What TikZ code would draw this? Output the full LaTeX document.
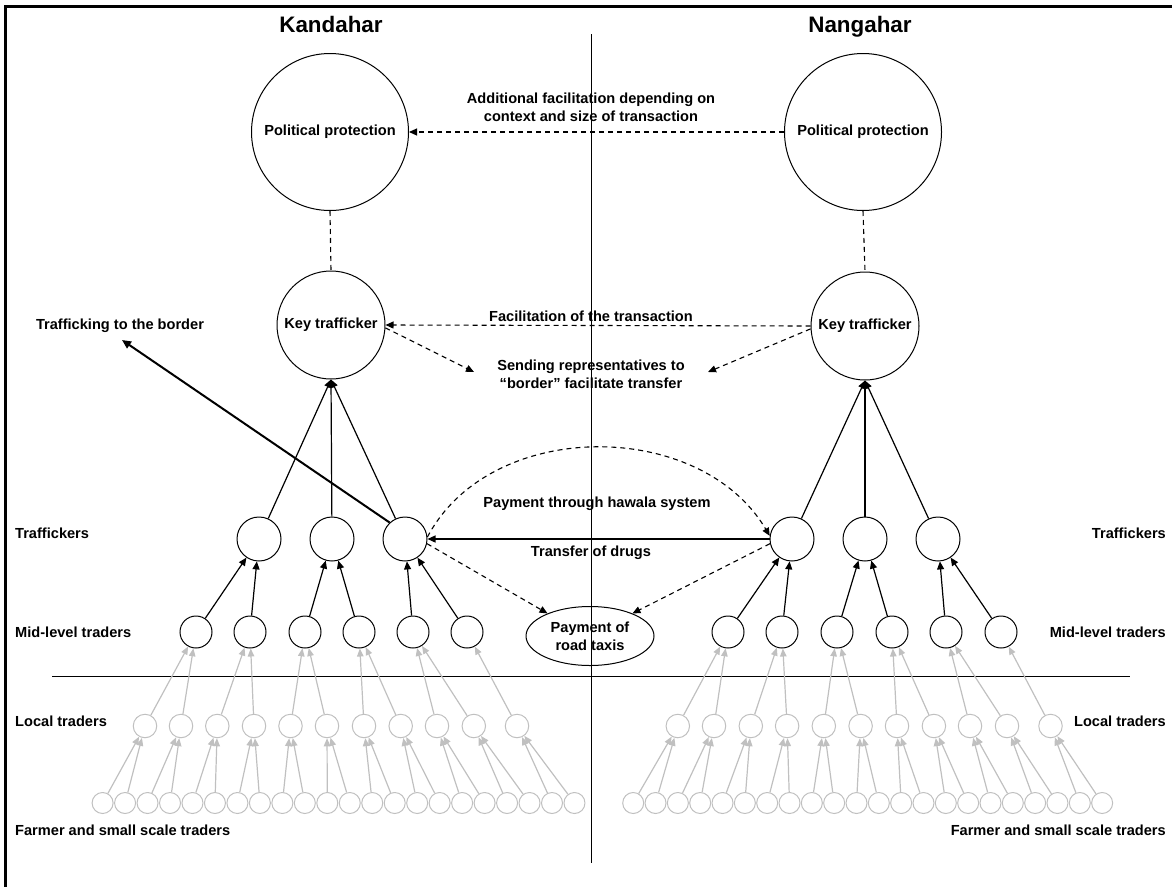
\documentclass[tikz,border=0pt]{standalone}
\usepackage{fontspec}
\setmainfont{Liberation Sans}
\usetikzlibrary{arrows.meta,shapes.geometric}
\definecolor{lightg}{RGB}{192,192,192}
\begin{document}
\begin{tikzpicture}[x=1pt,y=-1pt,
  every node/.style={font=\bfseries\fontsize{14.6}{18}\selectfont, inner sep=0pt, align=center},
  ring/.style={circle, draw, line width=1pt, minimum size=#1},
  gring/.style={circle, draw=lightg, line width=1pt, minimum size=#1},
  title/.style={font=\bfseries\fontsize{22.4}{26}\selectfont, anchor=base},
  blk/.style={line width=1.2pt, -{Triangle[length=8pt,width=7pt]}},
  gry/.style={draw=lightg, line width=1.2pt, -{Triangle[length=8pt,width=6.5pt]}},
  dsh/.style={line width=1.1pt, dash pattern=on 5pt off 4pt},
  dsharr/.style={dsh, -{Triangle[length=8pt,width=7pt]}}
]
\useasboundingbox (0,0) rectangle (1172,886);
\clip (0,0) rectangle (1172,886);
% frame
\draw[line width=3.2pt] (5.7,900) -- (5.7,6.7) -- (1190,6.7);
% dividers
\draw[line width=1pt] (591,34) -- (591,863);
\draw[line width=1pt] (52,676) -- (1130,676);
% titles
\node[title] (tk) at (331,32.5) {Kandahar};
\node[title] (tn) at (860,32.5) {Nangahar};
% political protection
\node[ring=157] (lpp) at (330,132) {Political protection};
\node[ring=157] (rpp) at (863,132) {Political protection};
% key traffickers
\node[ring=108] (lkt) at (331,325) {Key trafficker};
\node[ring=108] (rkt) at (865,326) {Key trafficker};
\draw[dsh] (lpp.south) -- (lkt.north);
\draw[dsh] (rpp.south) -- (rkt.north);
% traffickers
\foreach \x [count=\i] in {259,332,405} \node[ring=44] (lt\i) at (\x,539) {};
\foreach \x [count=\i] in {792,865,938} \node[ring=44] (rt\i) at (\x,539) {};
% mid-level
\foreach \x [count=\i] in {196,250,305,359,413,467} \node[ring=32] (lm\i) at (\x,632) {};
\foreach \x [count=\i] in {728,782,837,892,946,1001} \node[ring=32] (rm\i) at (\x,632) {};
% local traders
\foreach \x [count=\i] in {145,181,217.3,254,290.5,327,364,400.7,437,473.8,517} \node[gring=23.5] (ll\i) at (\x,726) {};
\foreach \x [count=\i] in {677.8,714,750.8,787.1,823.8,860.6,897,933.9,970,1007,1050.5} \node[gring=23.5] (rl\i) at (\x,726) {};
% farmers
\foreach \i in {1,...,22} {
  \node[gring=21] (lf\i) at ({102.6+22.47*(\i-1)},803) {};
  \node[gring=21] (rf\i) at ({633.2+22.33*(\i-1)},803) {};
}
% payment of road taxis
\node[ellipse, draw, line width=1pt, minimum width=128, minimum height=59] (taxi) at (590,636) {Payment of\\road taxis};
% farmer -> local
\foreach \i in {1,...,11} {
  \pgfmathtruncatemacro\a{2*\i-1}
  \pgfmathtruncatemacro\b{2*\i}
  \draw[gry] (lf\a) -- (ll\i);
  \draw[gry] (lf\b) -- (ll\i);
  \draw[gry] (rf\a) -- (rl\i);
  \draw[gry] (rf\b) -- (rl\i);
}
% local -> mid
\foreach \l/\m in {1/1,2/1,3/2,4/2,5/3,6/3,7/4,8/4,9/5,10/5,11/6} {
  \draw[gry] (ll\l) -- (lm\m);
  \draw[gry] (rl\l) -- (rm\m);
}
% mid -> traffickers
\foreach \m/\t in {1/1,2/1,3/2,4/2,5/3,6/3} {
  \draw[blk] (lm\m) -- (lt\t);
  \draw[blk] (rm\m) -- (rt\t);
}
% traffickers -> key
\foreach \t in {1,2,3} {
  \draw[blk] (lt\t) -- (lkt.south);
  \draw[blk] (rt\t) -- (rkt.south);
}
% top dashed arrows
\draw[dsharr] (rpp.west) -- (lpp.east);
\node (addl) at (591,107) {Additional facilitation depending on\\context and size of transaction};
\draw[dsharr] (rkt.west) -- (lkt.east);
\node (facl) at (591,316) {Facilitation of the transaction};
\coordinate (sendL) at (474,372);
\coordinate (sendR) at (708,372);
\draw[dsharr] (lkt.-3) -- (sendL);
\draw[dsharr] (rkt.183) -- (sendR);
\node (send) at (591,374) {Sending representatives to\\“border” facilitate transfer};
% trafficking to the border
\coordinate (border) at (122,340);
\draw[line width=2pt, -{Triangle[length=9pt,width=8pt]}] (lt3.133) -- (border);
\node (tbl) at (120,326) {Trafficking to the border};
% hawala
\draw[dsharr] (lt3.5) .. controls (490,418) and (700,418) .. (rt1.172);
\node (haw) at (597,504) {Payment through hawala system};
% transfer of drugs
\draw[line width=1.2pt, -{Triangle[length=8pt,width=7pt]}] (rt1.west) -- (lt3.east);
\node (tod) at (591,553) {Transfer of drugs};
% road taxis
\draw[dsharr] (lt3.-12) -- (taxi.152);
\draw[dsharr] (rt1.192) -- (taxi.28);
% row labels
\node[anchor=west] (lab1) at (15,533) {Traffickers};
\node[anchor=west] (lab2) at (15,632) {Mid-level traders};
\node[anchor=west] (lab3) at (15,721) {Local traders};
\node[anchor=west] (lab4) at (15,830) {Farmer and small scale traders};
\node[anchor=east] (rab1) at (1166,533) {Traffickers};
\node[anchor=east] (rab2) at (1166,632) {Mid-level traders};
\node[anchor=east] (rab3) at (1166,721) {Local traders};
\node[anchor=east] (rab4) at (1166,830) {Farmer and small scale traders};
\end{tikzpicture}
\end{document}
